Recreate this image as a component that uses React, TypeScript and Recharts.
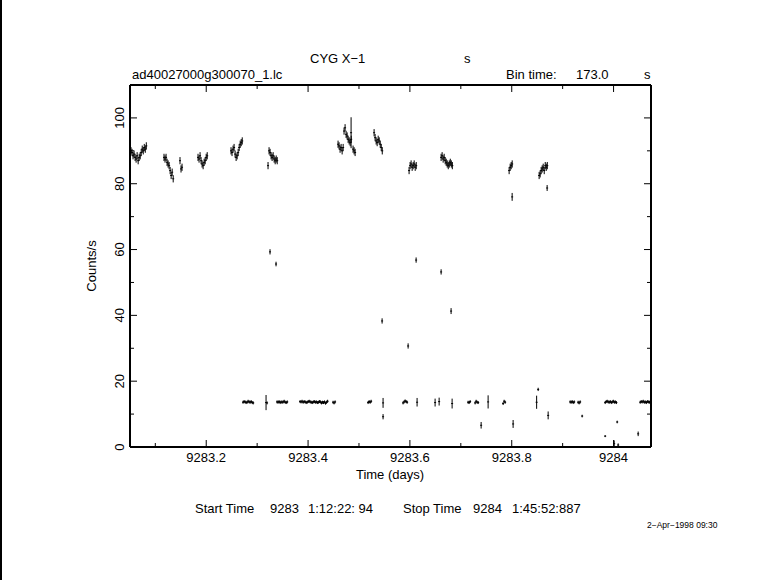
import { ScatterChart, Scatter, XAxis, YAxis, ErrorBar } from "recharts"

// light curve: 173 s bins, times in days
const BIN_DAYS = 173 / 86400
const T_START = 9283.0503 // 9283 1:12:22
const T_STOP = 9284.0735 // 9284 1:45:52

const X_TICKS = [9283.1, 9283.2, 9283.3, 9283.4, 9283.5, 9283.6, 9283.7, 9283.8, 9283.9, 9284.0]
const X_LABELS = [9283.2, 9283.4, 9283.6, 9283.8, 9284]
const Y_TICKS = [0, 10, 20, 30, 40, 50, 60, 70, 80, 90, 100]
const Y_LABELS = [0, 20, 40, 60, 80, 100]

// high rate runs, consecutive bins starting at t0
const HIGH_RUNS = [
  { t0: 9283.0523, rates: [90, 89.5, 88.5, 89, 88, 87.5, 88.5, 87, 88, 88.5, 89.5, 90.5, 90, 91, 90.5, 91.5] },
  { t0: 9283.1171, rates: [88, 87.5, 88, 86.5, 86, 85.5, 84, 82.5, 83.5, 81.5] },
  { t0: 9283.1485, rates: [87, 84.5, 85] },
  { t0: 9283.1839, rates: [88, 87.5, 88.5, 87, 86, 85.5, 86.5, 87, 88, 88.5] },
  { t0: 9283.2487, rates: [90, 89.5, 90.5, 91, 89, 88, 88.5, 89.5, 91, 92, 92.5, 93] },
  { t0: 9283.3214, rates: [85.5, 90, 89.5, 88.5, 88, 88.5, 87.5, 87, 87.5, 87] },
  { t0: 9283.4589, rates: [92, 91.5, 90.5, 91, 90, 91] },
  { t0: 9283.4707, rates: [96, 97, 95, 94.5, 93.5, 93, 92.5, 93.5] },
  { t0: 9283.4884, rates: [90.5, 90, 89.5] },
  { t0: 9283.5297, rates: [95.5, 94, 93, 92.5, 93.5, 93, 92, 91, 90] },
  { t0: 9283.5984, rates: [84, 85.5, 86, 85, 85.5, 86, 85, 85.5] },
  { t0: 9283.6613, rates: [88, 88.5, 87.5, 88, 87, 86.5, 86, 85.5, 86, 86.5, 86, 85.5] },
  { t0: 9283.7949, rates: [84, 85, 85.5, 86] },
  { t0: 9283.8538, rates: [82.5, 83, 84, 84.5, 85, 84, 85.5, 85, 85.5] },
]
const HIGH_ERR = 1.1

// low rate runs
const LOW_RUNS = [
  { t0: 9283.2723, rates: [13.6, 13.8, 13.7, 13.5, 13.6, 13.9, 13.7, 13.6, 13.8, 13.5, 13.4] },
  { t0: 9283.3195, rates: [13.4] },
  { t0: 9283.3391, rates: [13.7, 13.6, 13.8, 13.5, 13.7, 13.6, 13.7, 13.9, 13.6, 13.5, 13.7] },
  { t0: 9283.3843, rates: [13.8, 13.7, 13.9, 13.6, 13.8, 13.7, 13.5, 13.6, 13.8, 13.9, 13.7, 13.6, 13.5, 13.7, 13.8, 13.6, 13.7, 13.5, 13.6, 13.8, 13.7, 13.4, 13.6, 13.5, 13.7, 13.3, 13.6, 13.9] },
  { t0: 9283.4491, rates: [13.6, 13.4, 13.7] },
  { t0: 9283.5179, rates: [13.5, 13.8, 13.6, 13.9] },
  { t0: 9283.5866, rates: [13.4, 13.7, 14.0, 13.8, 13.6] },
  { t0: 9283.7143, rates: [13.6, 13.5, 13.8] },
  { t0: 9283.7281, rates: [13.4, 13.9, 13.6, 13.5] },
  { t0: 9283.7831, rates: [13.2, 13.9, 13.6] },
  { t0: 9283.9147, rates: [13.7, 13.6, 13.8, 13.5, 13.7] },
  { t0: 9283.9304, rates: [13.6, 13.4, 13.7] },
  { t0: 9283.9835, rates: [13.5, 13.8, 13.9, 13.7, 13.6, 13.8, 13.5, 13.7, 13.9, 13.6, 13.7, 13.5] },
  { t0: 9284.0523, rates: [13.6, 13.8, 13.7, 13.9, 13.6, 13.7, 13.5, 13.8, 13.7, 13.6, 13.8] },
]
const LOW_ERR = 0.45

// isolated bins: [time, rate, error]
const SINGLES: [number, number, number][] = [
  [9283.3253, 59.3, 0.8],
  [9283.3371, 55.6, 0.7],
  [9283.4845, 95.5, 4.7],
  [9283.5454, 38.3, 0.8],
  [9283.5965, 30.7, 0.8],
  [9283.6122, 56.8, 0.8],
  [9283.6613, 53.2, 0.8],
  [9283.6809, 41.3, 0.9],
  [9283.8008, 76.0, 1.2],
  [9283.8695, 78.7, 0.9],
  [9283.3175, 13.5, 2.3],
  [9283.5473, 13.4, 1.5],
  [9283.6141, 13.6, 1.3],
  [9283.6495, 13.5, 1.2],
  [9283.6574, 13.8, 1.2],
  [9283.6829, 13.2, 1.5],
  [9283.7536, 13.7, 2.0],
  [9283.8489, 13.6, 2.0],
  [9283.5473, 9.2, 0.8],
  [9283.7399, 6.6, 1.0],
  [9283.8027, 7.0, 1.2],
  [9283.8519, 17.5, 0.5],
  [9283.8715, 9.6, 1.2],
  [9283.9383, 9.4, 0.4],
  [9283.9835, 3.3, 0.3],
  [9284.0012, 1.0, 1.0],
  [9284.0071, 7.6, 0.4],
  [9284.009, 0.6, 0.5],
  [9284.0483, 4.0, 0.7],
]

type Run = { t0: number; rates: number[] }
const expand = (runs: Run[], err: number) =>
  runs.flatMap((r) => r.rates.map((rate, i) => ({ t: r.t0 + i * BIN_DAYS, rate, err })))

const highData = [...expand(HIGH_RUNS, HIGH_ERR), ...SINGLES.map(([t, rate, err]) => ({ t, rate, err }))]
const lowData = expand(LOW_RUNS, LOW_ERR)

const FONT = "'Liberation Sans', Arial, sans-serif"
const isIn = (list: number[], v: number) => list.some((l) => Math.abs(l - v) < 1e-6)

const BottomTick = ({ x, y, payload }: any) => {
  const major = isIn(X_LABELS, payload.value)
  return (
    <g>
      <line x1={x} x2={x} y1={y} y2={y - (major ? 7 : 4)} stroke="#000" />
      {major && (
        <text x={x} y={y + 15} textAnchor="middle" fontSize={13} fontFamily={FONT} fill="#000">
          {String(payload.value)}
        </text>
      )}
    </g>
  )
}

const TopTick = ({ x, y, payload }: any) => {
  const major = isIn(X_LABELS, payload.value)
  return <line x1={x} x2={x} y1={y} y2={y + (major ? 7 : 4)} stroke="#000" />
}

const LeftTick = ({ x, y, payload }: any) => {
  const major = isIn(Y_LABELS, payload.value)
  return (
    <g>
      <line x1={x} x2={x + (major ? 7 : 4)} y1={y} y2={y} stroke="#000" />
      {major && (
        <text
          x={x - 6}
          y={y}
          transform={`rotate(-90 ${x - 6} ${y})`}
          textAnchor="middle"
          fontSize={13}
          fontFamily={FONT}
          fill="#000"
        >
          {payload.value}
        </text>
      )}
    </g>
  )
}

const RightTick = ({ x, y, payload }: any) => {
  const major = isIn(Y_LABELS, payload.value)
  return <line x1={x} x2={x - (major ? 7 : 4)} y1={y} y2={y} stroke="#000" />
}

const binMark = (p: any) => (
  <line x1={p.cx - 1} x2={p.cx + 1} y1={p.cy} y2={p.cy} stroke="#000" strokeWidth={1} />
)

const axisLine = { stroke: "#000", strokeWidth: 2 }

export default function App() {
  return (
    <div style={{ position: "absolute", left: 0, top: 0, width: 781, height: 580, background: "#fff" }}>
      <ScatterChart width={781} height={580} margin={{ top: 84, right: 129, bottom: 132, left: 129 }}>
        <XAxis
          xAxisId="b"
          dataKey="t"
          type="number"
          orientation="bottom"
          domain={[T_START, T_STOP]}
          allowDataOverflow
          ticks={X_TICKS}
          interval={0}
          height={1}
          tickSize={0}
          tickMargin={0}
          tickLine={false}
          tick={BottomTick}
          axisLine={axisLine}
        />
        <XAxis
          xAxisId="t"
          dataKey="t"
          type="number"
          orientation="top"
          domain={[T_START, T_STOP]}
          allowDataOverflow
          ticks={X_TICKS}
          interval={0}
          height={1}
          tickSize={0}
          tickMargin={0}
          tickLine={false}
          tick={TopTick}
          axisLine={axisLine}
        />
        <YAxis
          yAxisId="l"
          dataKey="rate"
          type="number"
          orientation="left"
          domain={[0, 110]}
          allowDataOverflow
          ticks={Y_TICKS}
          interval={0}
          width={1}
          tickSize={0}
          tickMargin={0}
          tickLine={false}
          tick={LeftTick}
          axisLine={axisLine}
        />
        <YAxis
          yAxisId="r"
          dataKey="rate"
          type="number"
          orientation="right"
          domain={[0, 110]}
          allowDataOverflow
          ticks={Y_TICKS}
          interval={0}
          width={1}
          tickSize={0}
          tickMargin={0}
          tickLine={false}
          tick={RightTick}
          axisLine={axisLine}
        />
        <Scatter xAxisId="b" yAxisId="l" data={highData} shape={binMark} isAnimationActive={false}>
          <ErrorBar dataKey="err" direction="y" width={0} stroke="#000" strokeWidth={1} isAnimationActive={false} />
        </Scatter>
        <Scatter xAxisId="t" yAxisId="r" data={lowData} shape={binMark} isAnimationActive={false}>
          <ErrorBar dataKey="err" direction="y" width={0} stroke="#000" strokeWidth={1} isAnimationActive={false} />
        </Scatter>
      </ScatterChart>

      <svg
        width={781}
        height={580}
        style={{ position: "absolute", left: 0, top: 0, pointerEvents: "none" }}
        fontFamily={FONT}
        fill="#000"
      >
        <text x={310} y={63} fontSize={13}>CYG X−1</text>
        <text x={464} y={63} fontSize={13}>s</text>
        <text x={132} y={79} fontSize={13}>ad40027000g300070_1.lc</text>
        <text x={506} y={79} fontSize={13}>Bin time:</text>
        <text x={576} y={79} fontSize={13}>173.0</text>
        <text x={644} y={79} fontSize={13}>s</text>
        <text x={96} y={266} fontSize={13} textAnchor="middle" transform="rotate(-90 96 266)">Counts/s</text>
        <text x={390} y={479} fontSize={13} textAnchor="middle">Time (days)</text>
        <text x={195} y={513} fontSize={13}>Start Time</text>
        <text x={270} y={513} fontSize={13}>9283</text>
        <text x={308} y={513} fontSize={13}>1:12:22: 94</text>
        <text x={403} y={513} fontSize={13}>Stop Time</text>
        <text x={473} y={513} fontSize={13}>9284</text>
        <text x={512} y={513} fontSize={13}>1:45:52:887</text>
        <text x={647} y={528} fontSize={8.5}>2−Apr−1998 09:30</text>
        <rect x={0} y={0} width={2} height={580} fill="#000" />
      </svg>
    </div>
  )
}
